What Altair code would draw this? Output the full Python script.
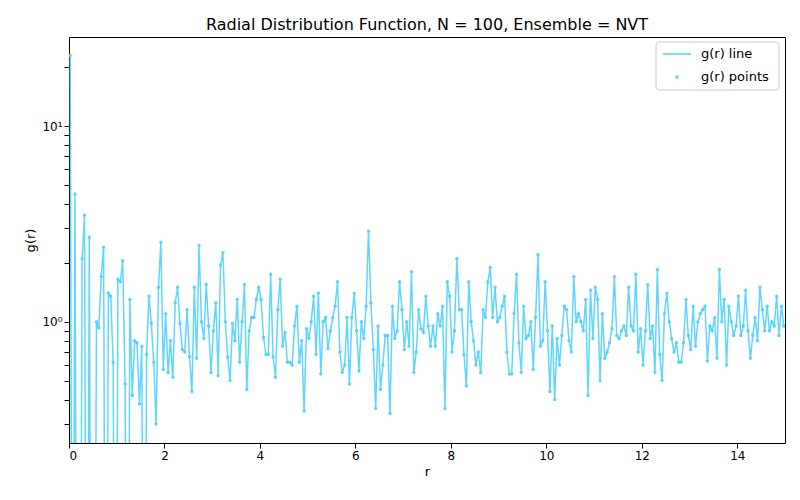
import pandas as pd
import altair as alt

g_values = [
    23, 0, 4.5, 0, 0, 2.1, 3.5, 0, 2.7, 0, 0, 1.0, 0.93, 1.7, 2.4, 0, 1.4, 1.35, 0.62, 0,
    1.65, 1.6, 2.05, 0.48, 0, 1.3, 0.42, 0.8, 0.78, 0.38, 0.75, 0, 0.68, 1.35, 0.98, 0.62, 0.3, 1.5, 2.55, 0.57,
    1.1, 0.55, 0.8, 0.52, 1.25, 1.5, 0.98, 0.72, 0.7, 1.15, 0.66, 0.44, 1.5, 0.65, 2.45, 1.0, 0.82, 1.55, 0.95, 0.55,
    0.9, 1.25, 0.53, 1.95, 2.25, 1.0, 0.66, 0.5, 0.98, 0.8, 1.3, 0.62, 1.0, 1.55, 0.45, 0.9, 1.05, 1.05, 1.3, 1.5,
    1.3, 0.83, 0.68, 0.68, 1.75, 0.66, 0.52, 1.15, 1.65, 0.75, 0.88, 0.62, 0.62, 0.6, 0.95, 1.2, 0.62, 0.8, 0.35, 0.92,
    0.82, 1.0, 1.35, 0.68, 1.4, 0.54, 1.0, 1.05, 0.73, 0.9, 1.05, 1.2, 1.6, 0.7, 0.55, 0.6, 1.05, 0.48, 1.05, 1.4,
    0.9, 0.56, 1.0, 0.82, 1.2, 2.9, 1.25, 0.72, 0.36, 0.95, 0.45, 0.6, 0.85, 0.85, 0.34, 1.2, 0.82, 0.9, 1.6, 1.15,
    0.72, 1.0, 0.75, 1.8, 0.55, 0.7, 1.15, 0.92, 0.88, 1.35, 0.95, 0.75, 0.95, 0.75, 1.1, 0.95, 1.2, 0.36, 1.6, 1.35,
    0.7, 0.9, 2.1, 1.15, 1.15, 0.68, 0.47, 1.6, 1.0, 0.8, 0.6, 0.7, 0.55, 1.15, 1.05, 1.6, 1.9, 1.05, 1.5, 1.0,
    1.05, 1.2, 1.35, 0.7, 0.54, 0.54, 1.1, 1.75, 0.78, 0.55, 1.2, 0.82, 0.85, 1.0, 0.57, 1.05, 2.2, 0.75, 0.8, 1.6,
    0.9, 0.44, 0.95, 0.4, 0.82, 0.6, 0.85, 1.2, 1.15, 0.8, 0.7, 1.7, 1.0, 1.1, 1.0, 0.9, 1.3, 0.42, 1.45, 0.82,
    1.5, 1.3, 0.5, 1.1, 0.65, 0.7, 0.78, 0.92, 1.7, 0.85, 0.82, 0.9, 0.95, 0.85, 1.5, 0.95, 0.9, 1.75, 0.7, 0.92,
    0.6, 0.9, 1.55, 0.82, 0.95, 0.55, 1.85, 0.68, 0.5, 1.1, 1.4, 1.0, 0.82, 0.7, 0.78, 0.62, 0.62, 0.78, 1.3, 0.85,
    0.72, 1.2, 0.75, 1.0, 1.1, 1.15, 1.2, 0.63, 0.95, 0.9, 1.05, 0.65, 1.85, 1.0, 1.3, 0.6, 1.2, 1.0, 0.85, 0.95,
    1.35, 0.85, 0.95, 1.45, 0.9, 0.65, 0.85, 1.05, 0.8, 1.5, 1.15, 0.9, 1.2, 0.9, 1.0, 0.95, 1.35, 0.85, 1.2, 0.95,
]
r_values = [0.025 + 0.05 * i for i in range(len(g_values))]

df = pd.DataFrame({"r": r_values, "g": [v if v > 0 else 1e-3 for v in g_values]})

color = "#4fd0ff"
tick_vals = [0.3, 0.4, 0.5, 0.6, 0.7, 0.8, 0.9, 1, 2, 3, 4, 5, 6, 7, 8, 9, 10, 20]

x = alt.X("r:Q", title="r", scale=alt.Scale(domain=[0, 15], nice=False),
          axis=alt.Axis(values=list(range(0, 16, 2)), grid=False))
y = alt.Y("g:Q", title="g(r)",
          scale=alt.Scale(type="log", domain=[0.24, 28.5], nice=False),
          axis=alt.Axis(values=tick_vals, grid=False,
                        labelExpr="datum.value == 1 ? '10⁰' : datum.value == 10 ? '10¹' : ''"))

base = alt.Chart(df).encode(x=x, y=y)
line = base.mark_line(color=color, strokeWidth=1.5, opacity=0.9, clip=True)
pts = base.mark_circle(color=color, size=12, opacity=0.9, clip=True)

# legend box
box = alt.Chart(pd.DataFrame({"a": [0]})).mark_rect(
    fill="white", stroke="#cccccc", cornerRadius=3).encode(
    x=alt.value(587), x2=alt.value(710), y=alt.value(5), y2=alt.value(53))
leg_line = alt.Chart(pd.DataFrame({"a": [0]})).mark_rule(color=color, strokeWidth=1.5).encode(
    x=alt.value(594), x2=alt.value(622), y=alt.value(17))
leg_pt = alt.Chart(pd.DataFrame({"a": [0]})).mark_circle(color=color, size=14, opacity=0.9).encode(
    x=alt.value(608), y=alt.value(40))
leg_txt = alt.Chart(pd.DataFrame({"t": ["g(r) line", "g(r) points"], "yy": [17, 40]})).mark_text(
    align="left", baseline="middle", fontSize=13, font="DejaVu Sans").encode(
    x=alt.value(632), y=alt.Y("yy:Q", scale=None), text="t:N")

chart = alt.layer(line, pts, box, leg_line, leg_pt, leg_txt).properties(
    width=716, height=406,
    title=alt.TitleParams("Radial Distribution Function, N = 100, Ensemble = NVT",
                          fontSize=16, fontWeight="normal", font="DejaVu Sans"),
    autosize=alt.AutoSizeParams(type="none"),
    padding={"left": 61, "top": 29, "right": 7, "bottom": 49},
).configure_axis(
    labelFont="DejaVu Sans", titleFont="DejaVu Sans", labelFontSize=12, titleFontSize=13,
    titleFontWeight="normal", domainColor="black", tickColor="black", labelColor="black",
).configure_view(stroke="black", strokeWidth=1)

chart.save("out.html", embed_options={"renderer": "svg", "actions": False})
